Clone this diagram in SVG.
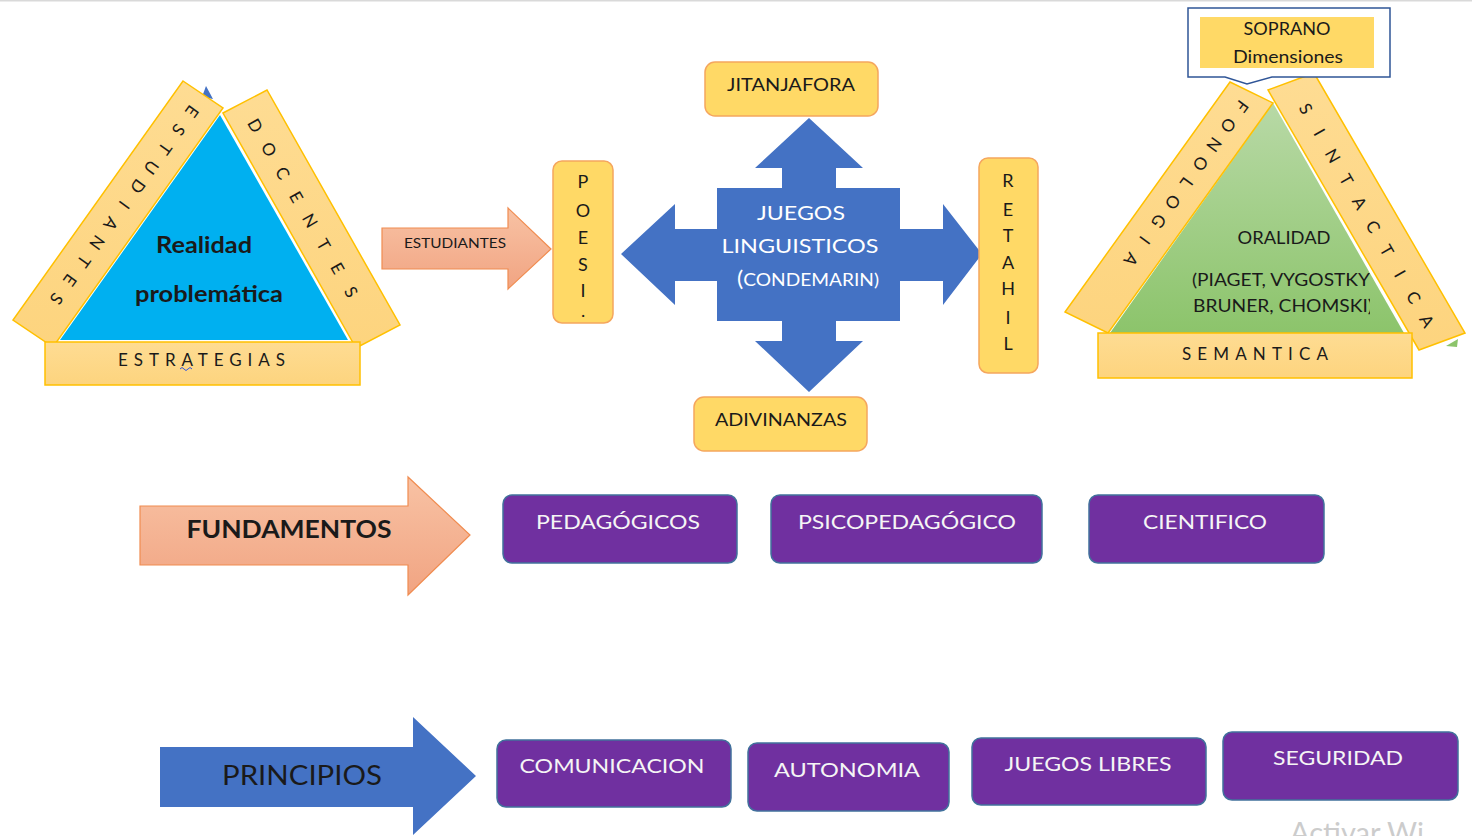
<svg xmlns="http://www.w3.org/2000/svg" width="1472" height="836" viewBox="0 0 1472 836">
<defs>
<linearGradient id="salmon" x1="0" y1="0" x2="0" y2="1"><stop offset="0" stop-color="#f8c2a4"/><stop offset="1" stop-color="#f1a482"/></linearGradient>
<linearGradient id="green" x1="0" y1="0" x2="0" y2="1"><stop offset="0" stop-color="#b8d9a6"/><stop offset="1" stop-color="#8cc46b"/></linearGradient>
<linearGradient id="band" x1="0" y1="0" x2="0" y2="1"><stop offset="0" stop-color="#fedc93"/><stop offset="1" stop-color="#fdd47e"/></linearGradient>
<clipPath id="clipR"><rect x="1100" y="260" width="270" height="70"/></clipPath>
</defs>
<style>
text{font-family:Lato,"Open Sans","Liberation Sans",sans-serif}
.band{fill:url(#band);stroke:#ffc000;stroke-width:1.5}
.ybox{fill:#ffd966;stroke:#f5a65e;stroke-width:1.5}
.pbox{fill:#7030a0;stroke:#41719c;stroke-width:1.5}
.pt{fill:#f5f5f5;font-size:20px;text-anchor:middle}
.lt{font-size:17px;fill:#1a1a1a;text-anchor:middle;dominant-baseline:central}
.dk{fill:#1a1a1a;text-anchor:middle}
.salmon{fill:url(#salmon);stroke:#f08c50;stroke-width:1.2}
</style>
<rect x="0" y="0" width="1472" height="1.5" fill="#d9d9d9"/>

<g id="left-triangle">
<polygon points="202,97 206,86 213,99" fill="#4472c4"/>
<polygon points="220,115 60,340 348,340" fill="#00b0f0"/>
<polygon class="band" points="183,81 223,108 53,347 13,320"/>
<polygon class="band" points="223,113 267,90 400,325 356,348"/>
<g transform="translate(192.7,111.7) rotate(125.8)"><text class="lt"><tspan x="0">E</tspan><tspan x="23.1">S</tspan><tspan x="46.3">T</tspan><tspan x="69.4">U</tspan><tspan x="92.6">D</tspan><tspan x="115.7">I</tspan><tspan x="138.8">A</tspan><tspan x="162">N</tspan><tspan x="185.1">T</tspan><tspan x="208.3">E</tspan><tspan x="231.4">S</tspan></text></g>
<g transform="translate(256,125) rotate(60.1)"><text class="lt"><tspan x="0">D</tspan><tspan x="27.5">O</tspan><tspan x="54.9">C</tspan><tspan x="82.4">E</tspan><tspan x="109.8">N</tspan><tspan x="137.3">T</tspan><tspan x="164.8">E</tspan><tspan x="192.2">S</tspan></text></g>
<rect class="band" x="45" y="342" width="315" height="43"/>
<text x="118" y="366" font-size="17" fill="#1a1a1a" textLength="167" lengthAdjust="spacing">ESTRATEGIAS</text>
<path d="M180,369 q2,-3 4,0 t4,0 t4,0" fill="none" stroke="#3355dd" stroke-width="1"/>
<text class="dk" x="204" y="253" font-size="22" font-weight="bold" textLength="96" lengthAdjust="spacingAndGlyphs">Realidad</text>
<text class="dk" x="209" y="302" font-size="22" font-weight="bold" textLength="148" lengthAdjust="spacingAndGlyphs">problemática</text>
</g>

<g id="connectors">
<g id="arrow-estudiantes">
<path class="salmon" d="M382,228 L508,228 L508,208 L551,249 L508,289 L508,269 L382,269 Z"/>
<text class="dk" x="455" y="248" font-size="13" textLength="102" lengthAdjust="spacingAndGlyphs">ESTUDIANTES</text>
</g>
</g>

<g id="poesia">
<rect class="ybox" x="553" y="161" width="60" height="162" rx="9"/>
<text class="dk" font-size="18"><tspan x="583" y="188">P</tspan><tspan x="583" y="217">O</tspan><tspan x="583" y="244">E</tspan><tspan x="583" y="271">S</tspan><tspan x="583" y="297">I</tspan><tspan x="583" y="317">.</tspan></text>
</g>

<g id="juegos">
<path d="M621,254 L675,204 L675,229 L717,229 L717,188 L782,188 L782,168 L755,168 L809,118 L863,168 L836,168 L836,188 L900,188 L900,229 L943,229 L943,204 L982,254 L943,305 L943,281 L900,281 L900,321 L836,321 L836,341 L863,341 L809,392 L755,341 L782,341 L782,321 L717,321 L717,281 L675,281 L675,305 Z" fill="#4472c4"/>
<text x="801" y="220" font-size="20" fill="#fff" text-anchor="middle" textLength="88" lengthAdjust="spacingAndGlyphs">JUEGOS</text>
<text x="800" y="253" font-size="20" fill="#fff" text-anchor="middle" textLength="157" lengthAdjust="spacingAndGlyphs">LINGUISTICOS</text>
<text x="808" y="286" font-size="18" fill="#fff" text-anchor="middle" textLength="142" lengthAdjust="spacingAndGlyphs"><tspan font-size="22">(</tspan>CONDEMARIN)</text>
</g>

<g id="jitanjafora">
<rect class="ybox" x="705" y="62" width="173" height="54" rx="10"/>
<text class="dk" x="791" y="91" font-size="18" textLength="128" lengthAdjust="spacingAndGlyphs">JITANJAFORA</text>
</g>
<g id="adivinanzas">
<rect class="ybox" x="694" y="397" width="173" height="54" rx="10"/>
<text class="dk" x="781" y="426" font-size="18" textLength="132" lengthAdjust="spacingAndGlyphs">ADIVINANZAS</text>
</g>
<g id="retahila">
<rect class="ybox" x="979" y="158" width="59" height="215" rx="9"/>
<text class="dk" font-size="18"><tspan x="1008" y="187">R</tspan><tspan x="1008" y="216">E</tspan><tspan x="1008" y="242">T</tspan><tspan x="1008" y="269">A</tspan><tspan x="1008" y="295">H</tspan><tspan x="1008" y="324">I</tspan><tspan x="1008" y="350">L</tspan></text>
</g>

<g id="right-triangle">
<polygon points="1446,346 1458,339 1457,347" fill="#8cc46b"/>
<polygon points="1273,103 1110,333 1404,333" fill="url(#green)"/>
<polygon class="band" points="1230,82 1273,103 1108,333 1065,312"/>
<polygon class="band" points="1268,90 1314,73 1465,333 1419,350"/>
<g transform="translate(1242.7,106.7) rotate(125.9)"><text class="lt"><tspan x="0">F</tspan><tspan x="23.7">O</tspan><tspan x="47.3">N</tspan><tspan x="71">O</tspan><tspan x="94.6">L</tspan><tspan x="118.3">O</tspan><tspan x="142">G</tspan><tspan x="165.6">I</tspan><tspan x="189.3">A</tspan></text></g>
<g transform="translate(1306.7,108.3) rotate(60.3)"><text class="lt"><tspan x="0">S</tspan><tspan x="27.2">I</tspan><tspan x="54.3">N</tspan><tspan x="81.5">T</tspan><tspan x="108.6">A</tspan><tspan x="135.8">C</tspan><tspan x="163">T</tspan><tspan x="190.1">I</tspan><tspan x="217.3">C</tspan><tspan x="244.4">A</tspan></text></g>
<rect class="band" x="1098" y="333" width="314" height="45"/>
<text x="1182" y="360" font-size="17" fill="#1a1a1a" textLength="146" lengthAdjust="spacing">SEMANTICA</text>
<text class="dk" x="1284" y="244" font-size="18" textLength="93" lengthAdjust="spacingAndGlyphs">ORALIDAD</text>
<g clip-path="url(#clipR)">
<text x="1192" y="286" font-size="18" fill="#1a1a1a" textLength="178" lengthAdjust="spacingAndGlyphs">(PIAGET, VYGOSTKY</text>
<text x="1193" y="312" font-size="18" fill="#1a1a1a" textLength="180" lengthAdjust="spacingAndGlyphs">BRUNER, CHOMSKI)</text>
</g>
</g>

<g id="soprano">
<path d="M1188,8 L1390,8 L1390,77 L1272,77 L1247,84 L1225,77 L1188,77 Z" fill="#fff" stroke="#2f5597" stroke-width="1.5"/>
<rect x="1200" y="17" width="174" height="51" fill="#ffd966"/>
<text class="dk" x="1287" y="35" font-size="18" textLength="87" lengthAdjust="spacingAndGlyphs">SOPRANO</text>
<text class="dk" x="1288" y="63" font-size="18" textLength="110" lengthAdjust="spacingAndGlyphs">Dimensiones</text>
</g>

<g id="fundamentos">
<path class="salmon" d="M140,506 L408,506 L408,477 L470,535 L408,595 L408,565 L140,565 Z"/>
<text class="dk" x="289" y="538" font-size="25" font-weight="bold" textLength="205" lengthAdjust="spacingAndGlyphs">FUNDAMENTOS</text>
</g>
<g id="pedagogicos"><rect class="pbox" x="503" y="495" width="234" height="68" rx="9"/><text class="pt" x="618" y="529" textLength="164" lengthAdjust="spacingAndGlyphs">PEDAGÓGICOS</text></g>
<g id="psicopedagogico"><rect class="pbox" x="771" y="495" width="271" height="68" rx="9"/><text class="pt" x="907" y="529" textLength="218" lengthAdjust="spacingAndGlyphs">PSICOPEDAGÓGICO</text></g>
<g id="cientifico"><rect class="pbox" x="1089" y="495" width="235" height="68" rx="9"/><text class="pt" x="1205" y="529" textLength="124" lengthAdjust="spacingAndGlyphs">CIENTIFICO</text></g>

<g id="principios">
<path d="M160,747 L413,747 L413,717 L476,776 L413,835 L413,807 L160,807 Z" fill="#4472c4"/>
<text class="dk" x="302" y="785" font-size="27" textLength="160" lengthAdjust="spacingAndGlyphs">PRINCIPIOS</text>
</g>
<g id="comunicacion"><rect class="pbox" x="497" y="740" width="234" height="67" rx="9"/><text class="pt" x="612" y="773" textLength="185" lengthAdjust="spacingAndGlyphs">COMUNICACION</text></g>
<g id="autonomia"><rect class="pbox" x="748" y="743" width="201" height="68" rx="9"/><text class="pt" x="847" y="777" textLength="146" lengthAdjust="spacingAndGlyphs">AUTONOMIA</text></g>
<g id="juegos-libres"><rect class="pbox" x="972" y="738" width="234" height="67" rx="9"/><text class="pt" x="1088" y="771" textLength="167" lengthAdjust="spacingAndGlyphs">JUEGOS LIBRES</text></g>
<g id="seguridad"><rect class="pbox" x="1223" y="732" width="235" height="68" rx="9"/><text class="pt" x="1338" y="765" textLength="130" lengthAdjust="spacingAndGlyphs">SEGURIDAD</text></g>

<text x="1290" y="843" font-size="29" fill="#cccccc" font-family="'Open Sans',sans-serif">Activar Wi</text>
</svg>
